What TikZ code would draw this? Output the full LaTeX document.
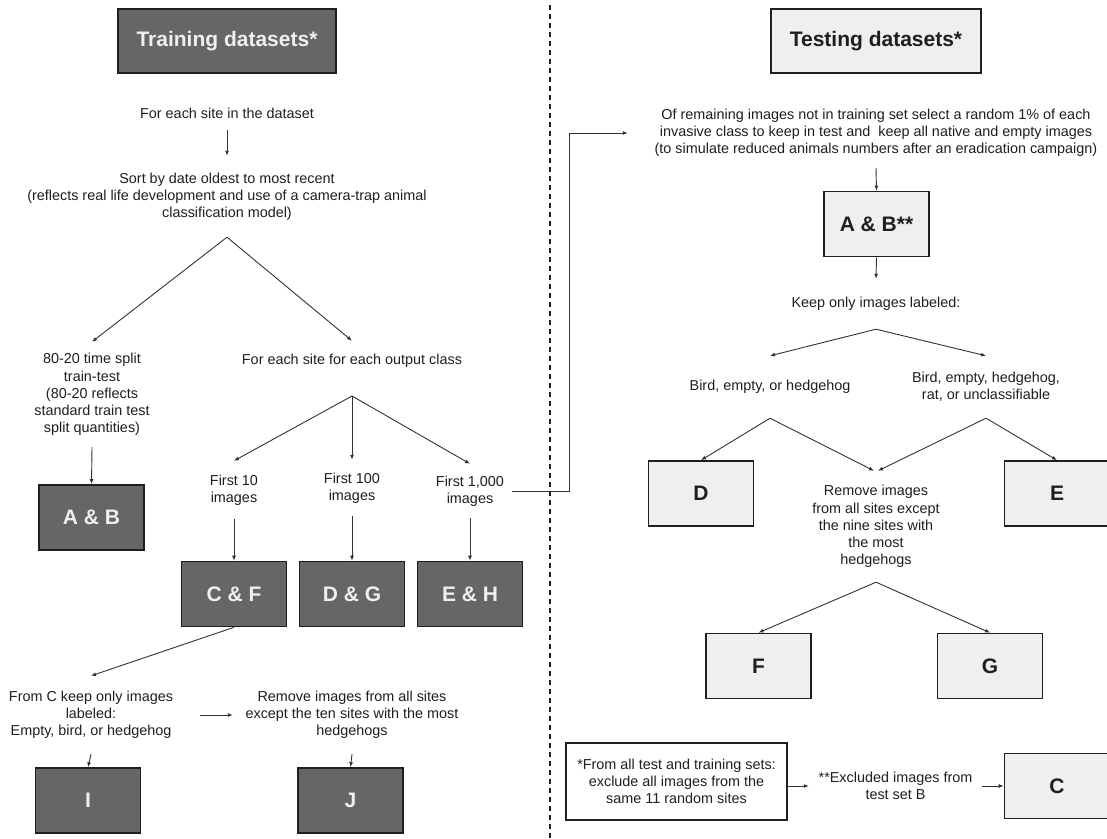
\documentclass[tikz,border=0pt]{standalone}
\usepackage{fontspec}
\setmainfont{Liberation Sans}
\usetikzlibrary{arrows.meta}
\definecolor{grisfonce}{HTML}{666666}
\definecolor{grisclair}{HTML}{EFEFEF}
\definecolor{trait}{HTML}{333333}
\definecolor{encre}{HTML}{1F1F1F}
\begin{document}
\begin{tikzpicture}[x=1pt,y=-1pt]
% Styles
\tikzstyle{boite}=[draw=encre,line width=1.6pt,inner sep=0pt,minimum width=\Lb,minimum height=\Hb,font=\fontsize{21}{25}\selectfont\bfseries]
\tikzstyle{sombre}=[boite,fill=grisfonce,text=grisclair]
\tikzstyle{clair}=[boite,fill=grisclair,text=encre]
\tikzstyle{texte}=[align=center,inner sep=0pt,text=encre,font=\fontsize{14.4}{17.2}\selectfont]
\tikzstyle{fleche}=[-{Latex[length=5pt,width=4pt]},line width=0.9pt,draw=trait]
\tikzstyle{separateur}=[dash pattern=on 5pt off 4pt,line width=1.6pt,draw=encre]
% Dimensions des boites
\def\Lb{105}
\def\Hb{65}
% Cadre de l'image
\useasboundingbox[fill=white] (0,0) rectangle (1107,838);
% Titres
\node[sombre,minimum width=218,minimum height=64] (entrainement) at (227,41) {Training datasets*};
\node[clair,minimum width=210,minimum height=64] (test) at (876,41) {Testing datasets*};
% Separation
\draw[separateur] (550,5) -- (550,838);
% Colonne entrainement
\node[texte,minimum height=34] (site) at (227,113) {For each site in the dataset};
\node[texte,minimum height=81] (tri) at (227,196.5) {Sort by date oldest to most recent\\(reflects real life development and use of a camera-trap animal\\classification model)};
\coordinate (fourche1) at (tri.south);
\node[texte,minimum height=105] (decoupe) at (92,394.5) {80-20 time split\\train-test\\(80-20 reflects\\standard train test\\split quantities)};
\node[texte,minimum height=40] (classe) at (352,361) {For each site for each output class};
\coordinate (fourche2) at (352,396);
\node[sombre] (AB) at (91.5,517.5) {A \& B};
\node[texte,minimum height=58] (dix) at (234,490) {First 10\\images};
\node[texte,minimum height=56] (cent) at (352,488) {First 100\\images};
\node[texte,minimum height=54,minimum width=84] (mille) at (470,491) {First 1,000\\images};
\node[sombre] (CF) at (234,594) {C \& F};
\node[sombre] (DG) at (352,594) {D \& G};
\node[sombre] (EH) at (470,594) {E \& H};
\node[texte,minimum height=78,minimum width=218] (depuisC) at (91,715) {From C keep only images\\labeled:\\Empty, bird, or hedgehog};
\node[texte,minimum height=78,minimum width=238] (dixsites) at (352,715) {Remove images from all sites\\except the ten sites with the most\\hedgehogs};
\node[sombre] (I) at (88,800.5) {I};
\node[sombre] (J) at (350.5,800.5) {J};
\coordinate (coude) at (569,491);
% Colonne test
\node[texte,minimum height=70,minimum width=496] (restant) at (876,133) {Of remaining images not in training set select a random 1\% of each\\invasive class to keep in test and \ keep all native and empty images\\(to simulate reduced animals numbers after an eradication campaign)};
\node[clair] (ABt) at (876.5,224) {A \& B**};
\node[texte,minimum height=50] (garder) at (876,304) {Keep only images labeled:};
\coordinate (fourche3) at (garder.south);
\node[texte,minimum height=62] (oiseau1) at (770,387) {Bird, empty, or hedgehog};
\node[texte,minimum height=62] (oiseau2) at (986,387) {Bird, empty, hedgehog,\\rat, or unclassifiable};
\node[clair] (D) at (701,493.5) {D};
\node[clair] (E) at (1057,493.5) {E};
\node[texte,minimum height=111] (neufsites) at (876,526.5) {Remove images\\from all sites except\\the nine sites with\\the most\\hedgehogs};
\node[clair] (F) at (758.5,666) {F};
\node[clair] (G) at (990,666) {G};
\node[texte,draw=encre,line width=1.4pt,minimum width=221,minimum height=77] (note) at (676.5,781.5) {*From all test and training sets:\\exclude all images from the\\same 11 random sites};
\node[texte,minimum width=173] (exclu) at (895.5,786) {**Excluded images from\\test set B};
\node[clair] (C) at (1057,786) {C};
% Fleches entrainement
\draw[fleche] (site.south) -- (tri.north);
\draw[fleche] (fourche1) -- (decoupe.north);
\draw[fleche] (fourche1) -- (classe.north);
\draw[fleche] (decoupe.south) -- (AB.north);
\draw[fleche] (fourche2) -- (dix.north);
\draw[fleche] (fourche2) -- (cent.north);
\draw[fleche] (fourche2) -- (mille.north);
\draw[fleche] (dix.south) -- (CF.north);
\draw[fleche] (cent.south) -- (DG.north);
\draw[fleche] (mille.south) -- (EH.north);
\draw[fleche] (CF.south) -- (depuisC.north);
\draw[fleche] (depuisC.east) -- (dixsites.west);
\draw[fleche] (depuisC.south) -- (I.north);
\draw[fleche] (dixsites.south) -- (J.north);
\draw[fleche] (mille.east) -- (coude) |- (restant.west);
% Fleches test
\draw[fleche] (restant.south) -- (ABt.north);
\draw[fleche] (ABt.south) -- (garder.north);
\draw[fleche] (fourche3) -- (oiseau1.north);
\draw[fleche] (fourche3) -- (oiseau2.north);
\draw[fleche] (oiseau1.south) -- (D.north);
\draw[fleche] (oiseau1.south) -- ([xshift=-2]neufsites.north);
\draw[fleche] (oiseau2.south) -- ([xshift=2]neufsites.north);
\draw[fleche] (oiseau2.south) -- (E.north);
\draw[fleche] (neufsites.south) -- (F.north);
\draw[fleche] (neufsites.south) -- (G.north);
\draw[fleche] (note.east |- exclu.west) -- (exclu.west);
\draw[fleche] (exclu.east) -- (C.west);
\end{tikzpicture}
\end{document}
